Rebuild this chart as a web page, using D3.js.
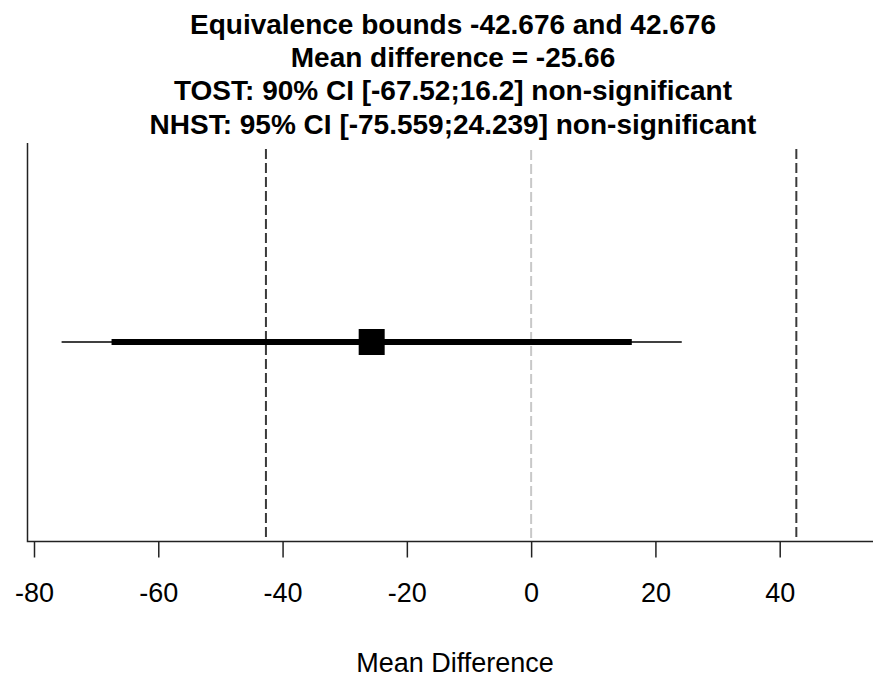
<!DOCTYPE html>
<html>
<head>
<meta charset="utf-8">
<script src="https://cdn.jsdelivr.net/npm/d3@7"></script>
<style>
  body { margin: 0; background: #fff; }
  svg { display: block; font-family: "Liberation Sans", Arial, sans-serif; }
</style>
</head>
<body>
<script>
// Values.
var titleLines = [
    "Equivalence bounds -42.676 and 42.676",
    "Mean difference = -25.66",
    "TOST: 90% CI [-67.52;16.2] non-significant",
    "NHST: 95% CI [-75.559;24.239] non-significant"
];
var xTicks = [-80, -60, -40, -20, 0, 20, 40];
var bounds = [-42.676, 42.676];
var nullValue = [0];
var meanDiff = [-25.66];
var ci90 = [-67.52, 16.2];
var ci95 = [-75.559, 24.239];
var xLabel = "Mean Difference";

var width = 873, height = 677;

var svg = d3.select("body").append("svg")
        .attr("width", width)
        .attr("height", height);

// Scales.
var x = d3.scaleLinear().domain([-80, 40]).range([34, 779.7]);
var y = d3.scaleLinear().domain([0, 2]).range([541, 143]);

// Title, four bold lines.
svg.append("g").selectAll("text")
        .data(titleLines)
        .enter().append("text")
        .attr("x", 453)
        .attr("y", function(d, i) { return 34 + i * 33.2; })
        .attr("text-anchor", "middle")
        .style("font-weight", "bold")
        .style("font-size", "28px")
        .text(function(d) { return d; });

// L-shaped frame.
svg.append("path")
        .attr("d", "M27.5," + y(2) + "V" + (y(0) + 0.5) + "H" + width)
        .attr("fill", "none")
        .attr("stroke", "#222")
        .attr("stroke-width", 1.5);

// Null line (light gray) and equivalence bounds (dark dashed).
svg.append("g").selectAll("line")
        .data(nullValue)
        .enter().append("line")
        .attr("x1", function(d) { return x(d); })
        .attr("x2", function(d) { return x(d); })
        .attr("y1", 150)
        .attr("y2", y(0))
        .attr("stroke", "#c8c8c8")
        .attr("stroke-width", 2)
        .attr("stroke-dasharray", "10,4");

svg.append("g").selectAll("line")
        .data(bounds)
        .enter().append("line")
        .attr("x1", function(d) { return x(d); })
        .attr("x2", function(d) { return x(d); })
        .attr("y1", 149)
        .attr("y2", y(0))
        .attr("stroke", "#3a3a3a")
        .attr("stroke-width", 2)
        .attr("stroke-dasharray", "10,4");

// Confidence intervals.
var cy = y(1);
svg.append("line")
        .attr("x1", x(ci95[0]))
        .attr("x2", x(ci95[1]))
        .attr("y1", cy)
        .attr("y2", cy)
        .attr("stroke", "#000")
        .attr("stroke-width", 1.5);
svg.append("line")
        .attr("x1", x(ci90[0]))
        .attr("x2", x(ci90[1]))
        .attr("y1", cy)
        .attr("y2", cy)
        .attr("stroke", "#000")
        .attr("stroke-width", 6);

// Mean point.
var sq = 26;
svg.append("g").selectAll("rect")
        .data(meanDiff)
        .enter().append("rect")
        .attr("x", function(d) { return x(d) - sq / 2; })
        .attr("y", cy - sq / 2)
        .attr("width", sq)
        .attr("height", sq)
        .attr("fill", "#000");

// X axis ticks and labels.
var axis = svg.append("g")
        .attr("transform", "translate(0," + (y(0) + 0.5) + ")")
        .call(d3.axisBottom(x).tickValues(xTicks).tickSize(16).tickPadding(25)
                .tickFormat(d3.format("d")));
axis.select(".domain").remove();
axis.selectAll(".tick line").attr("stroke", "#222").attr("stroke-width", 1.5);
axis.selectAll(".tick text")
        .style("font-size", "27px")
        .style("font-family", "'Liberation Sans', Arial, sans-serif")
        .attr("fill", "#000")
        .text(function(d) { return d < 0 ? "-" + Math.abs(d) : d; });

// X axis title.
svg.append("text")
        .attr("x", 455)
        .attr("y", 672)
        .attr("text-anchor", "middle")
        .style("font-size", "27px")
        .text(xLabel);
</script>
</body>
</html>
